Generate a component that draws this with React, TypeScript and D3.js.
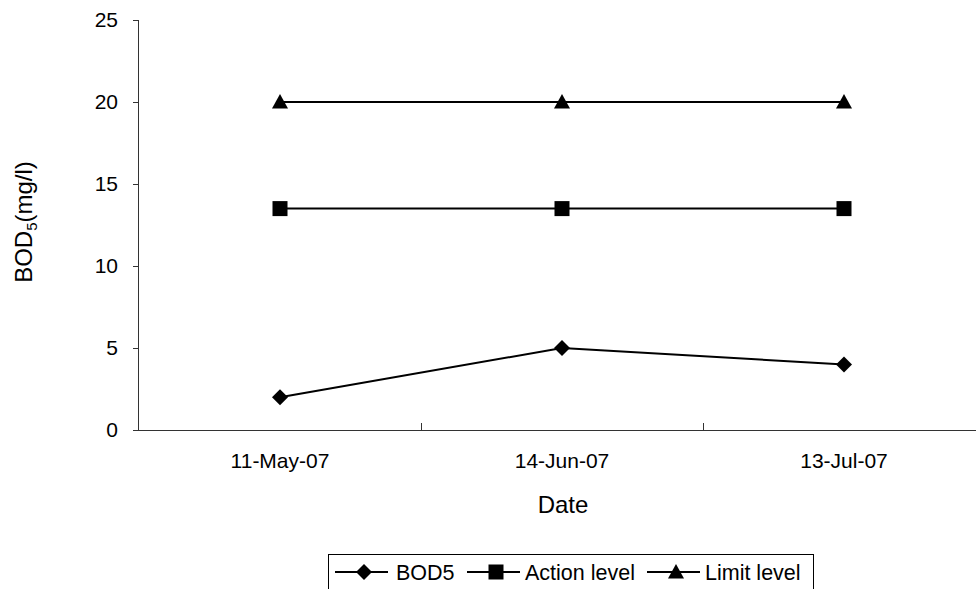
import React from "react";
import * as d3 from "d3";

const categories = ["11-May-07", "14-Jun-07", "13-Jul-07"];
const bod5 = [2, 5, 4];
const actionLevel = [13.5, 13.5, 13.5];
const limitLevel = [20, 20, 20];
const yTicks = [0, 5, 10, 15, 20, 25];

const W = 976;
const H = 589;
const FONT = "Liberation Sans, Arial, sans-serif";

const series = [
  { name: "BOD5", values: bod5, marker: "diamond" },
  { name: "Action level", values: actionLevel, marker: "square" },
  { name: "Limit level", values: limitLevel, marker: "triangle" },
];

function Marker({ kind, x, y }: { kind: string; x: number; y: number }) {
  if (kind === "diamond") {
    const r = 8;
    return <path d={`M${x},${y - r}L${x + r},${y}L${x},${y + r}L${x - r},${y}Z`} fill="#000" />;
  }
  if (kind === "square") {
    const r = 7.5;
    return <rect x={x - r} y={y - r} width={2 * r} height={2 * r} fill="#000" />;
  }
  const r = 8;
  return <path d={`M${x},${y - r}L${x + r},${y + 6.5}L${x - r},${y + 6.5}Z`} fill="#000" />;
}

export default function App() {
  const left = 139;
  const right = 985;
  const top = 20;
  const bottom = 430;
  const x = d3.scaleBand<string>().domain(categories).range([left, right]);
  const y = d3.scaleLinear().domain([0, 25]).range([bottom, top]);
  const cx = (c: string) => (x(c) as number) + x.bandwidth() / 2;
  const line = d3
    .line<number>()
    .x((_, i) => cx(categories[i]))
    .y((v) => y(v));

  const legendItems = [
    { lx: 335, tx: 396 },
    { lx: 467, tx: 525 },
    { lx: 647, tx: 705 },
  ];

  return (
    <svg width={W} height={H} style={{ position: "absolute", left: 0, top: 0, background: "#fff" }}>
      <rect x={0} y={0} width={W} height={H} fill="#fff" />
      {/* y axis */}
      <line x1={left - 0.5} x2={left - 0.5} y1={top} y2={bottom} stroke="#333" strokeWidth={1} />
      {yTicks.map((t) => (
        <g key={t}>
          <line x1={left - 6} x2={left} y1={Math.round(y(t)) + 0.5} y2={Math.round(y(t)) + 0.5} stroke="#333" />
          <text x={left - 21} y={y(t)} dy="0.35em" textAnchor="end" fontFamily={FONT} fontSize={21} fill="#000">
            {t}
          </text>
        </g>
      ))}
      {/* x axis */}
      <line x1={left - 1} x2={W} y1={bottom + 0.5} y2={bottom + 0.5} stroke="#333" strokeWidth={1} />
      {categories.slice(1).map((c) => (
        <line
          key={c}
          x1={Math.round(x(c) as number) + 0.5}
          x2={Math.round(x(c) as number) + 0.5}
          y1={bottom}
          y2={bottom - 7}
          stroke="#333"
        />
      ))}
      {categories.map((c) => (
        <text key={c} x={cx(c)} y={468} textAnchor="middle" fontFamily={FONT} fontSize={21} fill="#000">
          {c}
        </text>
      ))}
      <text x={563} y={513} textAnchor="middle" fontFamily={FONT} fontSize={24} fill="#000">
        Date
      </text>
      <text
        transform={`translate(32,222) rotate(-90)`}
        textAnchor="middle"
        fontFamily={FONT}
        fontSize={24}
        fill="#000"
      >
        BOD<tspan fontSize={15} dy={5}>5</tspan>
        <tspan dy={-5}>(mg/l)</tspan>
      </text>
      {/* series */}
      {series.map((s) => (
        <g key={s.name}>
          <path d={line(s.values) as string} fill="none" stroke="#000" strokeWidth={2} />
          {s.values.map((v, i) => (
            <Marker key={i} kind={s.marker} x={cx(categories[i])} y={y(v)} />
          ))}
        </g>
      ))}
      {/* legend */}
      <rect x={328.5} y={554.5} width={485} height={60} fill="#fff" stroke="#000" strokeWidth={1} />
      {series.map((s, i) => {
        const it = legendItems[i];
        const ly = 572;
        return (
          <g key={s.name}>
            <line x1={it.lx} x2={it.lx + 53} y1={ly} y2={ly} stroke="#000" strokeWidth={2} />
            <Marker kind={s.marker} x={it.lx + 29} y={ly} />
            <text x={it.tx} y={580} fontFamily={FONT} fontSize={21.5} fill="#000">
              {s.name}
            </text>
          </g>
        );
      })}
    </svg>
  );
}
